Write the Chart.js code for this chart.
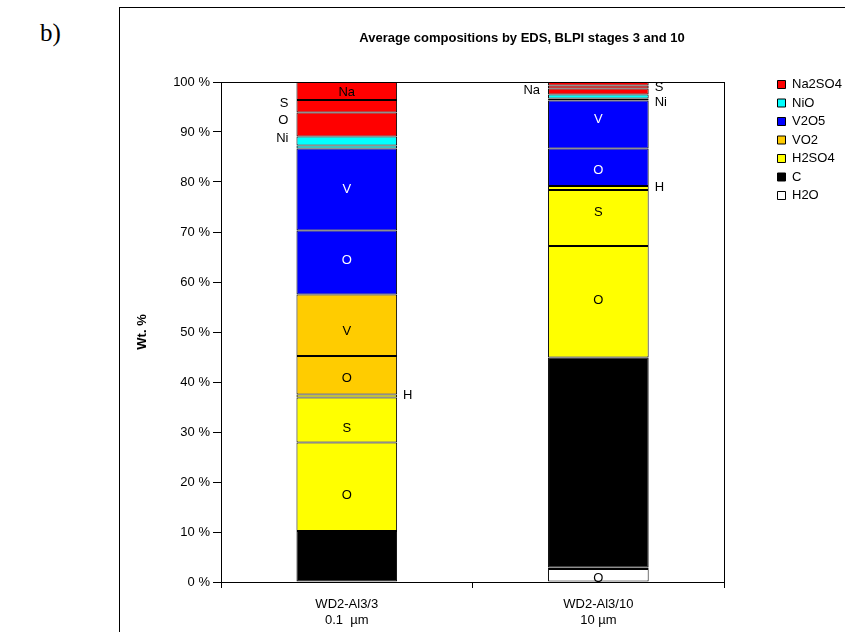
<!DOCTYPE html>
<html>
<head>
<meta charset="utf-8">
<script src="https://cdn.jsdelivr.net/npm/chart.js@4.4.1/dist/chart.umd.min.js"></script>
<style>
  html, body { margin: 0; padding: 0; background: #fff; overflow: hidden; }
  body { width: 845px; height: 632px; position: relative; }
  .tag { position: absolute; left: 40px; top: 19px; font: 25px "Liberation Serif", "Times New Roman", serif; }
  .frame { position: absolute; left: 119px; top: 7px; width: 800px; height: 700px;
           border-left: 1px solid #000; border-top: 1px solid #000; }
  #chart { position: absolute; left: 119px; top: 7px; }
</style>
</head>
<body>
<div class="tag">b)</div>
<div class="frame"></div>
<canvas id="chart" width="726" height="625"></canvas>
<script>
// samples on the x axis
const categories = [['WD2-Al3/3', '0.1  µm'], ['WD2-Al3/10', '10 µm']];

// compounds, legend order is reversed (top of stack first)
const compounds = ['H2O', 'C', 'H2SO4', 'VO2', 'V2O5', 'NiO', 'Na2SO4'];
const compoundColors = ['#ffffff', '#000000', '#ffff00', '#ffcc00', '#0000ff', '#00ffff', '#ff0000'];

// one stacked segment per element of a compound, bottom to top
const segCompound = ['H2O', 'H2O', 'C', 'H2SO4', 'H2SO4', 'H2SO4', 'VO2', 'VO2', 'V2O5', 'V2O5', 'NiO', 'NiO', 'Na2SO4', 'Na2SO4', 'Na2SO4'];
const segElement  = ['O', 'H', 'C', 'O', 'S', 'H', 'O', 'V', 'O', 'V', 'O', 'Ni', 'O', 'S', 'Na'];

// wt. % per segment
const stage3  = [null, null, 10.2, 17.7, 9.0, 0.6, 7.7, 12.3, 12.8, 16.4, 0.6, 1.8, 4.8, 2.5, 3.6];
const stage10 = [2.6, 0.3, 42.0, 22.3, 11.2, 0.8, null, null, 7.5, 9.6, 0.4, 0.8, 1.2, 0.6, 0.7];

// where the element symbol goes: c = inside, l = left of bar, r = right of bar
const place3  = ['', '', '', 'c', 'c', 'r', 'c', 'c', 'c', 'c', '', 'l', 'l', 'l', 'c'];
const place10 = ['c', '', '', 'c', 'c', 'r', '', '', 'c', 'c', '', 'r', '', 'r', 'l'];
const nudge3  = [0, 0, 0, 9, 8, -1, 3, 6, -2, 0, 0, -3, -4, -3, 1];
const nudge10 = [3, 0, 0, -1, -6, -1, 0, 0, 3, -5, 0, 6, 0, 0, 7];

const FONT = '"Liberation Sans", Arial, sans-serif';
Chart.defaults.font.family = FONT;
Chart.defaults.font.size = 13;
Chart.defaults.color = '#000';

const colorOf = c => compoundColors[compounds.indexOf(c)];

// move legend and title to where they sit in the original
const placeBoxes = {
  id: 'placeBoxes',
  afterLayout(chart) {
    const lg = chart.legend;
    const w = lg.width, h = lg.height;
    lg.left = 653; lg.right = lg.left + w;
    lg.top = 65.5; lg.bottom = lg.top + h;
    const t = chart.titleBlock;
    const tw = t.right - t.left;
    t.left = 403 - tw / 2; t.right = t.left + tw;
  }
};

// plot area border
const plotFrame = {
  id: 'plotFrame',
  afterDatasetsDraw(chart) {
    const a = chart.chartArea, ctx = chart.ctx;
    ctx.save();
    ctx.strokeStyle = '#000';
    ctx.lineWidth = 1;
    ctx.strokeRect(Math.round(a.left) + 0.5, Math.round(a.top) + 0.5,
                   Math.round(a.right - a.left), Math.round(a.bottom - a.top));
    ctx.restore();
  }
};

// element symbols on / beside the segments
const segmentText = {
  id: 'segmentText',
  afterDraw(chart) {
    const ctx = chart.ctx;
    ctx.save();
    ctx.font = '13px ' + FONT;
    ctx.textBaseline = 'middle';
    [[place3, nudge3], [place10, nudge10]].forEach(([places, nudges], bar) => {
      places.forEach((p, i) => {
        if (!p) return;
        const el = chart.getDatasetMeta(i).data[bar];
        if (!el) return;
        const half = el.width / 2;
        const y = (el.y + el.base) / 2 + nudges[i];
        let x = el.x;
        if (p === 'c') {
          ctx.textAlign = 'center';
          ctx.fillStyle = segCompound[i] === 'V2O5' ? '#ffffff' : '#000';
        } else if (p === 'l') {
          ctx.textAlign = 'right';
          ctx.fillStyle = '#000';
          x = el.x - half - 8;
        } else {
          ctx.textAlign = 'left';
          ctx.fillStyle = '#000';
          x = el.x + half + 6;
        }
        ctx.fillText(segElement[i], x, y);
      });
    });
    ctx.restore();
  }
};

const datasets = segElement.map((el, i) => ({
  label: segCompound[i] + ' ' + el,
  data: [stage3[i], stage10[i]],
  backgroundColor: colorOf(segCompound[i]),
  borderColor: '#000',
  borderWidth: 1,
  borderSkipped: false,
  stack: 'wt',
}));

new Chart(document.getElementById('chart'), {
  type: 'bar',
  data: { labels: categories, datasets },
  options: {
    responsive: false,
    animation: false,
    categoryPercentage: 1,
    barPercentage: 0.4,
    layout: { padding: { top: 0, right: 41, bottom: 0, left: 0 } },
    scales: {
      x: {
        stacked: true,
        afterFit(scale) { scale.height = 50; },
        grid: { drawOnChartArea: false, tickLength: 6, color: '#000', offset: true },
        border: { display: false },
        ticks: { padding: 8, font: { size: 13, lineHeight: 1.23 }, color: '#000' },
      },
      y: {
        stacked: true,
        min: 0,
        max: 100,
        afterFit(scale) { scale.width = 102; },
        grid: { drawOnChartArea: false, tickLength: 8, color: '#000' },
        border: { display: false },
        ticks: { stepSize: 10, padding: 3, color: '#000', callback: v => v + ' %' },
        title: { display: true, text: 'Wt. %', font: { size: 13, weight: 'bold' }, padding: { top: 16, bottom: 0 } },
      },
    },
    plugins: {
      title: {
        display: true,
        text: 'Average compositions by EDS, BLPI stages 3 and 10',
        font: { size: 13, weight: 'bold' },
        color: '#000',
        padding: { top: 24, bottom: 35.4 },
      },
      legend: {
        position: 'right',
        align: 'start',
        labels: {
          boxWidth: 8,
          boxHeight: 8,
          padding: 5.5,
          color: '#000',
          font: { size: 13 },
          generateLabels: () => compounds.slice().reverse().map(c => ({
            text: c,
            fillStyle: colorOf(c),
            strokeStyle: '#000',
            lineWidth: 1,
            hidden: false,
          })),
        },
      },
      tooltip: { enabled: false },
    },
  },
  plugins: [placeBoxes, plotFrame, segmentText],
});
</script>
</body>
</html>
